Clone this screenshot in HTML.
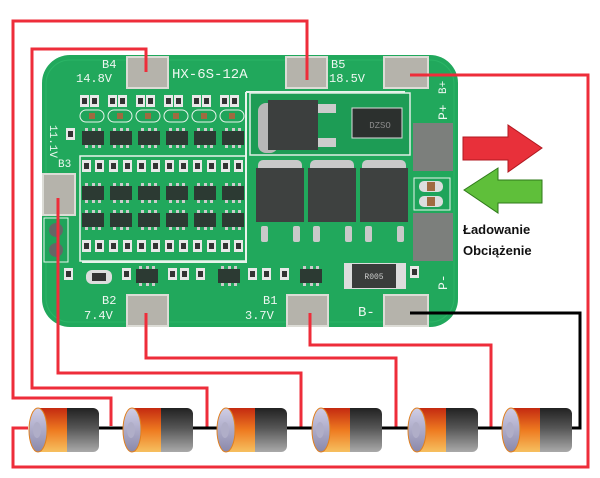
<!DOCTYPE html>
<html><head><meta charset="utf-8"><style>
html,body{margin:0;padding:0;background:#fff;width:600px;height:478px;overflow:hidden}
svg{display:block}
</style></head><body>
<svg width="600" height="478" viewBox="0 0 600 478" xmlns="http://www.w3.org/2000/svg">
<defs>
<linearGradient id="bat" x1="0" y1="0" x2="0" y2="1">
<stop offset="0" stop-color="#222"/><stop offset="0.45" stop-color="#555"/><stop offset="1" stop-color="#aaa"/></linearGradient>
<linearGradient id="org" x1="0" y1="0" x2="0" y2="1">
<stop offset="0" stop-color="#c42a10"/><stop offset="0.5" stop-color="#ee7a20"/><stop offset="1" stop-color="#f6c060"/></linearGradient>
<linearGradient id="cap" x1="0" y1="0" x2="0" y2="1">
<stop offset="0" stop-color="#d0cee6"/><stop offset="1" stop-color="#8a88aa"/></linearGradient>
<g id="battery">
<rect x="10" y="0" width="60" height="44" rx="6" fill="url(#bat)"/>
<rect x="8" y="0" width="30" height="44" fill="url(#org)"/>
<ellipse cx="9" cy="22" rx="9" ry="22" fill="url(#cap)" stroke="#e08020" stroke-width="1"/>
<ellipse cx="8" cy="22" rx="4" ry="8" fill="#b0aec8"/>
</g>
<g id="res"><rect width="9" height="12" fill="#e8e8e8"/><rect x="2" y="3" width="5" height="6" fill="#333"/></g>
<g id="chip"><rect x="0" y="3" width="22" height="14" fill="#2c3a33"/><rect x="3" y="0" width="3" height="3" fill="#ccc"/><rect x="10" y="0" width="3" height="3" fill="#ccc"/><rect x="16" y="0" width="3" height="3" fill="#ccc"/><rect x="3" y="17" width="3" height="3" fill="#ccc"/><rect x="10" y="17" width="3" height="3" fill="#ccc"/><rect x="16" y="17" width="3" height="3" fill="#ccc"/></g>
</defs>

<rect x="42" y="55" width="416" height="272" rx="28" fill="#21a85c"/>
<rect x="46" y="60" width="408" height="262" rx="24" fill="none" stroke="#2bb566" stroke-width="1"/>
<path d="M246 92 H405 M246 92 V155 M246 155 V262 H82" stroke="#e8f4ec" stroke-width="2" fill="none"/>
<rect x="250" y="93" width="160" height="62" fill="#1d9c55" stroke="#dfeee5" stroke-width="1.5"/>

<g>
<use href="#res" x="80" y="95"/><use href="#res" x="108" y="95"/><use href="#res" x="136" y="95"/><use href="#res" x="164" y="95"/><use href="#res" x="192" y="95"/><use href="#res" x="220" y="95"/>
<use href="#res" x="90" y="95"/><use href="#res" x="118" y="95"/><use href="#res" x="146" y="95"/><use href="#res" x="174" y="95"/><use href="#res" x="202" y="95"/><use href="#res" x="230" y="95"/>
</g>
<g fill="#1fa45a" stroke="#e8f4ec" stroke-width="1">
<rect x="80" y="110" width="24" height="12" rx="6"/><rect x="108" y="110" width="24" height="12" rx="6"/><rect x="136" y="110" width="24" height="12" rx="6"/><rect x="164" y="110" width="24" height="12" rx="6"/><rect x="192" y="110" width="24" height="12" rx="6"/><rect x="220" y="110" width="24" height="12" rx="6"/>
</g>
<g fill="#a06a40"><rect x="89" y="113" width="6" height="6"/><rect x="117" y="113" width="6" height="6"/><rect x="145" y="113" width="6" height="6"/><rect x="173" y="113" width="6" height="6"/><rect x="201" y="113" width="6" height="6"/><rect x="229" y="113" width="6" height="6"/></g>
<g>
<use href="#chip" x="82" y="128"/><use href="#chip" x="110" y="128"/><use href="#chip" x="138" y="128"/><use href="#chip" x="166" y="128"/><use href="#chip" x="194" y="128"/><use href="#chip" x="222" y="128"/>
</g>
<rect x="80" y="156" width="166" height="105" fill="none" stroke="#e8f4ec" stroke-width="1.5"/>
<g>
<use href="#res" x="82" y="160"/><use href="#res" x="95" y="160"/><use href="#res" x="109" y="160"/><use href="#res" x="123" y="160"/><use href="#res" x="137" y="160"/><use href="#res" x="151" y="160"/><use href="#res" x="165" y="160"/><use href="#res" x="179" y="160"/><use href="#res" x="193" y="160"/><use href="#res" x="207" y="160"/><use href="#res" x="221" y="160"/><use href="#res" x="234" y="160"/>
</g>
<g>
<use href="#chip" x="82" y="183"/><use href="#chip" x="110" y="183"/><use href="#chip" x="138" y="183"/><use href="#chip" x="166" y="183"/><use href="#chip" x="194" y="183"/><use href="#chip" x="222" y="183"/>
<use href="#chip" x="82" y="210"/><use href="#chip" x="110" y="210"/><use href="#chip" x="138" y="210"/><use href="#chip" x="166" y="210"/><use href="#chip" x="194" y="210"/><use href="#chip" x="222" y="210"/>
</g>
<g>
<use href="#res" x="82" y="240"/><use href="#res" x="95" y="240"/><use href="#res" x="109" y="240"/><use href="#res" x="123" y="240"/><use href="#res" x="137" y="240"/><use href="#res" x="151" y="240"/><use href="#res" x="165" y="240"/><use href="#res" x="179" y="240"/><use href="#res" x="193" y="240"/><use href="#res" x="207" y="240"/><use href="#res" x="221" y="240"/><use href="#res" x="234" y="240"/>
</g>
<use href="#res" x="66" y="128"/>
<rect x="44" y="218" width="24" height="44" fill="#1fa45a" stroke="#e8f4ec"/>
<circle cx="56" cy="230" r="7" fill="#666"/><circle cx="56" cy="250" r="7" fill="#666"/>
<use href="#res" x="64" y="268"/>
<rect x="86" y="270" width="26" height="14" rx="6" fill="#ddd"/><rect x="92" y="273" width="14" height="8" fill="#333"/>
<use href="#res" x="122" y="268"/><use href="#chip" x="136" y="266"/>
<use href="#res" x="168" y="268"/><use href="#res" x="180" y="268"/><use href="#res" x="196" y="268"/>
<use href="#chip" x="218" y="266"/>
<use href="#res" x="248" y="268"/><use href="#res" x="262" y="268"/><use href="#res" x="280" y="268"/>
<use href="#chip" x="300" y="266"/>
<use href="#res" x="410" y="266"/>
<rect x="258" y="103" width="20" height="50" rx="8" fill="#b8b8b8"/>
<rect x="268" y="100" width="50" height="50" fill="#3c3f3e"/>
<rect x="318" y="104" width="18" height="9" fill="#ccc"/><rect x="318" y="138" width="18" height="9" fill="#ccc"/>
<rect x="352" y="108" width="50" height="30" fill="#2c302e" stroke="#ddd"/>
<text x="380" y="128" font-family="Liberation Mono,monospace" font-size="9" fill="#888" text-anchor="middle">DZSO</text>
<g fill="#c9c9c9">
<rect x="258" y="160" width="44" height="14" rx="5"/><rect x="310" y="160" width="44" height="14" rx="5"/><rect x="362" y="160" width="44" height="14" rx="5"/>
</g>
<g fill="#3e4140">
<rect x="256" y="168" width="48" height="54"/><rect x="308" y="168" width="48" height="54"/><rect x="360" y="168" width="48" height="54"/>
</g>
<g fill="#c9c9c9">
<rect x="261" y="226" width="7" height="16" rx="2"/><rect x="293" y="226" width="7" height="16" rx="2"/>
<rect x="313" y="226" width="7" height="16" rx="2"/><rect x="345" y="226" width="7" height="16" rx="2"/>
<rect x="365" y="226" width="7" height="16" rx="2"/><rect x="397" y="226" width="7" height="16" rx="2"/>
</g>
<rect x="413" y="123" width="40" height="48" fill="#7c7f7c"/>
<rect x="413" y="213" width="40" height="48" fill="#7c7f7c"/>
<rect x="414" y="178" width="36" height="32" fill="#1fa45a" stroke="#e8f4ec"/>
<rect x="419" y="181" width="24" height="11" rx="5" fill="#ddd"/><rect x="427" y="182" width="8" height="9" fill="#a06a40"/>
<rect x="419" y="196" width="24" height="11" rx="5" fill="#ddd"/><rect x="427" y="197" width="8" height="9" fill="#a06a40"/>
<rect x="344" y="263" width="62" height="26" fill="#ddd"/>
<rect x="352" y="264" width="44" height="24" fill="#3a3c3b"/>
<text x="374" y="279" font-family="Liberation Mono,monospace" font-size="8" fill="#ccc" text-anchor="middle">R005</text>

<g fill="#b5b3ab" stroke="#dcdcd6" stroke-width="2">
<rect x="127" y="57" width="41" height="31"/>
<rect x="286" y="57" width="41" height="31"/>
<rect x="384" y="57" width="44" height="31"/>
<rect x="43" y="174" width="32" height="41"/>
<rect x="127" y="295" width="41" height="31"/>
<rect x="287" y="295" width="41" height="31"/>
<rect x="384" y="295" width="44" height="31"/>
</g>

<g font-family="Liberation Mono,DejaVu Sans Mono,monospace" fill="#eef7f1" font-size="12">
<text x="102" y="68">B4</text><text x="76" y="82">14.8V</text>
<text x="172" y="78" font-size="14">HX-6S-12A</text>
<text x="331" y="68">B5</text><text x="329" y="82">18.5V</text>
<text x="102" y="304">B2</text><text x="84" y="319">7.4V</text>
<text x="263" y="304">B1</text><text x="245" y="319">3.7V</text>
<text x="358" y="316" font-size="14">B-</text>
<text transform="translate(446,94) rotate(-90)" font-size="11">B+</text>
<text transform="translate(447,120) rotate(-90)" font-size="13">P+</text>
<text transform="translate(447,290) rotate(-90)" font-size="13">P-</text>
<text transform="translate(50,125) rotate(90)" font-size="11">11.1V</text>
<text x="58" y="167" font-size="11">B3</text>
</g>

<g fill="none" stroke="#ee2d3a" stroke-width="3" stroke-linejoin="miter">
<polyline points="307,80 307,21 13,21 13,398 111,398 111,426"/>
<polyline points="146,72 146,49 32,49 32,388 207,388 207,428"/>
<polyline points="58,198 58,373 301,373 301,428"/>
<polyline points="146,313 146,358 396,358 396,428"/>
<polyline points="310,313 310,345 491,345 491,428"/>
<polyline points="410,75 588,75 588,467 13,467 13,428 28,428"/>
</g>
<polyline points="410,313 580,313 580,428 572,428" fill="none" stroke="#000" stroke-width="3"/>
<line x1="98" y1="428" x2="502" y2="428" stroke="#000" stroke-width="3"/>

<use href="#battery" x="29" y="408"/>
<use href="#battery" x="123" y="408"/>
<use href="#battery" x="217" y="408"/>
<use href="#battery" x="312" y="408"/>
<use href="#battery" x="408" y="408"/>
<use href="#battery" x="502" y="408"/>

<polygon points="463,137 508,137 508,125 542,148 508,172 508,160 463,160" fill="#e8303a" stroke="#b01820" stroke-width="1"/>
<polygon points="542,180 498,180 498,168 464,190 498,213 498,203 542,203" fill="#5fbf3a" stroke="#2f7a1a" stroke-width="1"/>
<g font-family="Liberation Sans,DejaVu Sans,sans-serif" font-weight="bold" font-size="13" fill="#111">
<text x="463" y="234">Ładowanie</text>
<text x="463" y="255">Obciążenie</text>
</g>
</svg>
</body></html>
